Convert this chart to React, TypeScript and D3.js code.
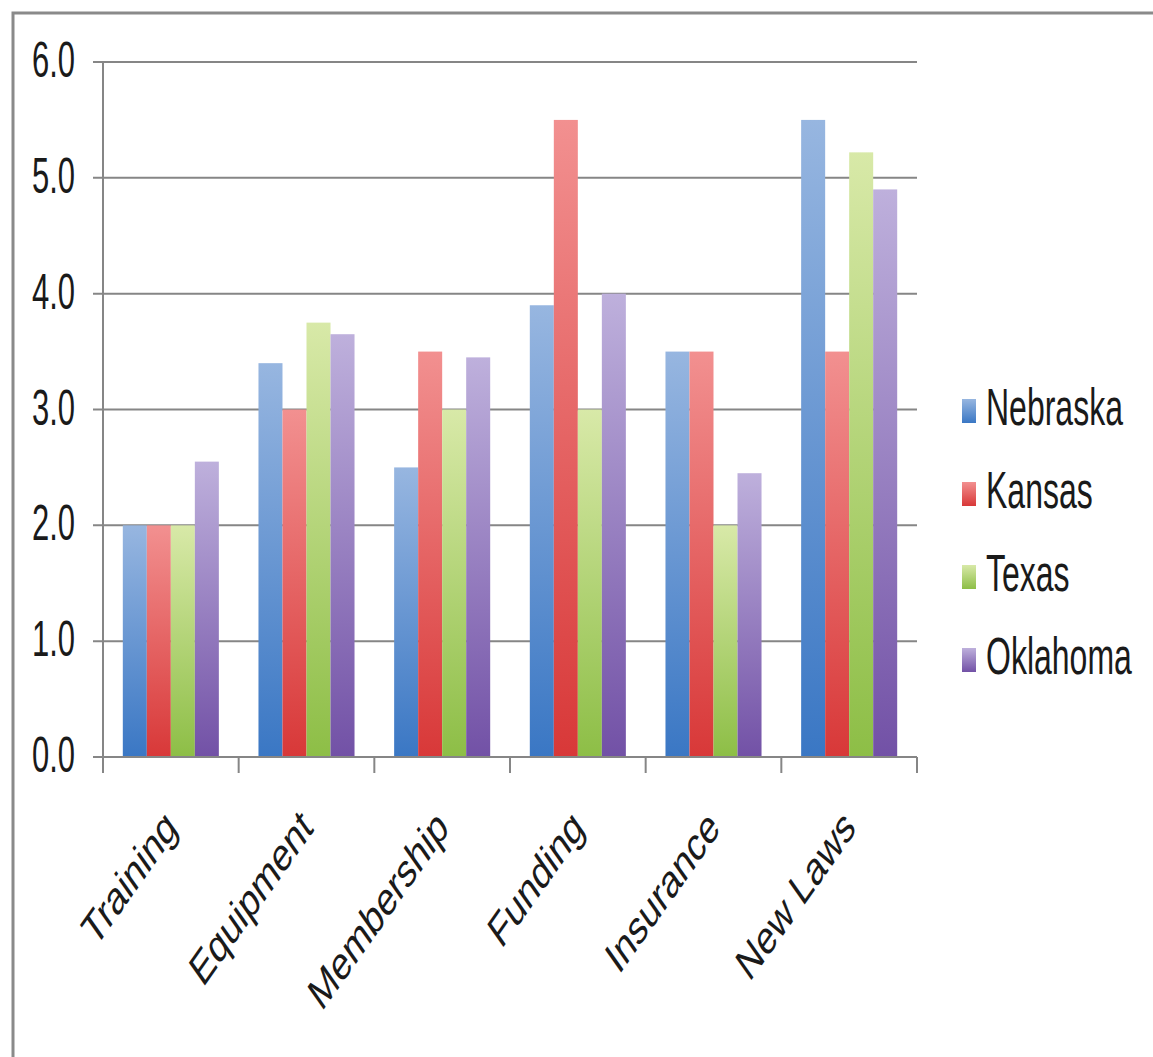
import React from "react";
import * as d3 from "d3";

const categories = ["Training", "Equipment", "Membership", "Funding", "Insurance", "New Laws"];
const seriesNames = ["Nebraska", "Kansas", "Texas", "Oklahoma"];
const nebraska = [2.0, 3.4, 2.5, 3.9, 3.5, 5.5];
const kansas = [2.0, 3.0, 3.5, 5.5, 3.5, 3.5];
const texas = [2.0, 3.75, 3.0, 3.0, 2.0, 5.22];
const oklahoma = [2.55, 3.65, 3.45, 4.0, 2.45, 4.9];
const yTicks = [0, 1, 2, 3, 4, 5, 6];

const seriesValues = [nebraska, kansas, texas, oklahoma];
const gradTop = ["#97b6e0", "#f29090", "#d8e9a8", "#beb0dc"];
const gradBottom = ["#3a77c4", "#d83838", "#8dbe46", "#7251a6"];

export default function App() {
  const W = 1153, H = 1057;
  const left = 103, right = 917, top = 62, bottom = 757;
  const x0 = d3.scaleBand<string>().domain(categories).range([left, right]).padding(0);
  const band = x0.bandwidth();
  const barW = band / 5.65;
  const off = (band - 4 * barW) / 2;
  const x1 = d3.scaleBand<string>().domain(seriesNames).range([off, band - off]).padding(0);
  const y = d3.scaleLinear().domain([0, 6]).range([bottom, top]);
  const kTxt = 1.63;
  const kRot = 1.42;
  const font = "'Liberation Sans', Arial, sans-serif";
  const gridColor = "#868686";
  const tickXs = [...categories.map((c) => x0(c) as number), right];

  return (
    <svg width={W} height={H} style={{ display: "block", position: "absolute", left: 0, top: 0 }}>
      <defs>
        {seriesNames.map((s, i) => (
          <linearGradient key={s} id={`g${i}`} x1="0" y1="0" x2="0" y2="1">
            <stop offset="0" stopColor={gradTop[i]} />
            <stop offset="1" stopColor={gradBottom[i]} />
          </linearGradient>
        ))}
      </defs>
      <rect x={0} y={0} width={W} height={H} fill="#fff" />
      <rect x={13} y={13} width={W + 20} height={H + 20} fill="none" stroke="#8a8a8a" strokeWidth={3} />
      {/* gridlines */}
      {yTicks.map((t) => (
        <line key={t} x1={93} x2={right} y1={y(t)} y2={y(t)} stroke={gridColor} strokeWidth={2} />
      ))}
      {/* y axis */}
      <line x1={left} x2={left} y1={top} y2={bottom} stroke={gridColor} strokeWidth={2} />
      {/* bars */}
      {categories.map((c, ci) => (
        <g key={c} transform={`translate(${x0(c)},0)`}>
          {seriesNames.map((s, si) => (
            <rect
              key={s}
              x={x1(s)}
              width={x1.bandwidth()}
              y={y(seriesValues[si][ci])}
              height={bottom - y(seriesValues[si][ci])}
              fill={`url(#g${si})`}
            />
          ))}
        </g>
      ))}
      {/* x axis */}
      <line x1={93} x2={right} y1={bottom} y2={bottom} stroke={gridColor} strokeWidth={2} />
      {tickXs.map((tx, i) => (
        <line key={i} x1={tx} x2={tx} y1={bottom} y2={bottom + 16} stroke={gridColor} strokeWidth={2} />
      ))}
      {/* y labels */}
      {yTicks.map((t) => (
        <text
          key={t}
          transform={`translate(75,${y(t) + 15}) scale(1,${kTxt})`}
          textAnchor="end"
          fontFamily={font}
          fontSize={31}
          fill="#1a1a1a"
        >
          {d3.format(".1f")(t)}
        </text>
      ))}
      {/* x labels */}
      {categories.map((c) => (
        <text
          key={c}
          transform={`translate(${(x0(c) as number) + band / 2 + 8},830) scale(1,${kRot}) rotate(-45)`}
          textAnchor="end"
          fontFamily={font}
          fontSize={33}
          fill="#1a1a1a"
        >
          {c}
        </text>
      ))}
      {/* legend */}
      {seriesNames.map((s, i) => {
        const by = 425 + i * 83;
        return (
          <g key={s}>
            <rect x={962} y={by - 26} width={14} height={24} fill={`url(#g${i})`} />
            <text
              transform={`translate(986,${by}) scale(1,${kTxt})`}
              fontFamily={font}
              fontSize={32}
              fill="#1a1a1a"
            >
              {s}
            </text>
          </g>
        );
      })}
    </svg>
  );
}
